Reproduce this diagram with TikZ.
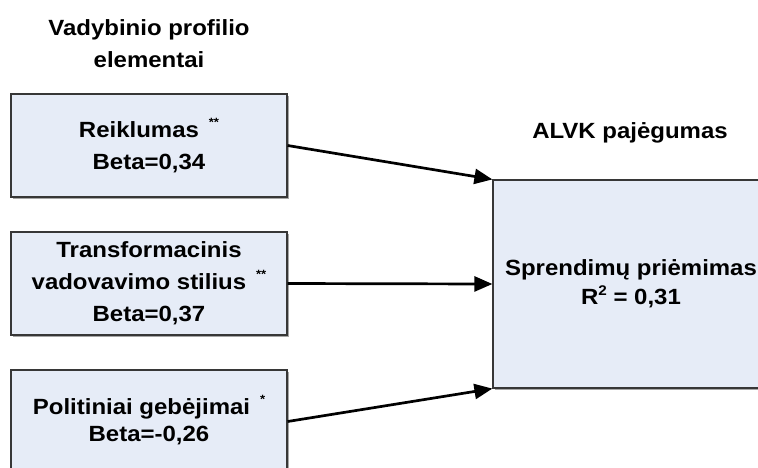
\documentclass[tikz,border=0pt]{standalone}
\usepackage{fontspec}
\setmainfont{Liberation Sans}[FakeStretch=1.09]
\usetikzlibrary{arrows.meta,shadows}

\definecolor{boxfill}{RGB}{230,236,247}
\definecolor{boxline}{RGB}{55,55,55}

\newcommand{\stars}[1]{\smash{\raisebox{11pt}{\fontsize{12}{12}\selectfont #1}}}
\newcommand{\squared}{\smash{\raisebox{9pt}{\fontsize{14}{14}\selectfont 2}}}

\tikzset{
  txt/.style={font=\bfseries\fontsize{22}{32}\selectfont, align=center, inner sep=0pt},
  factorbox/.style={txt, draw=boxline, line width=1.2pt, fill=boxfill,
    minimum width=276pt, minimum height=103pt,
    drop shadow={shadow xshift=1.6pt, shadow yshift=-1.6pt, fill=gray!70, opacity=1}},
  outcomebox/.style={factorbox, minimum height=208pt},
  link/.style={line width=2.7pt, -{Triangle[length=18pt,width=15pt]}}
}

\begin{document}
\begin{tikzpicture}[x=1pt,y=-1pt]
  \path[use as bounding box, clip] (0,0) rectangle (758,467);

  % column headings
  \node[txt] (hleft)  at (149,44)  {Vadybinio profilio\\elementai};
  \node[txt] (hright) at (630,133) {ALVK pajėgumas};

  % management profile factors
  \node[factorbox] (reik) at (149,145.5)
    {\rule{0pt}{19pt}Reiklumas\hspace{0.45em}\stars{**}\\Beta=0,34};
  \node[factorbox] (trans) at (149,283.5)
    {Transformacinis\\vadovavimo stilius\hspace{0.45em}\stars{**}\\Beta=0,37};
  \node[factorbox] (polit) at (149,421.5)
    {Politiniai gebėjimai\hspace{0.45em}\stars{*}\\[-5pt]Beta=-0,26};

  % outcome
  \node[outcomebox] (spr) at (631,284)
    {Sprendimų priėmimas\\[-3pt]R\squared{} = 0,31};

  % effects
  \draw[link] (reik.east)  -- (spr.north west);
  \draw[link] (trans.east) -- (spr.west);
  \draw[link] (polit.east) -- (spr.south west);
\end{tikzpicture}
\end{document}
